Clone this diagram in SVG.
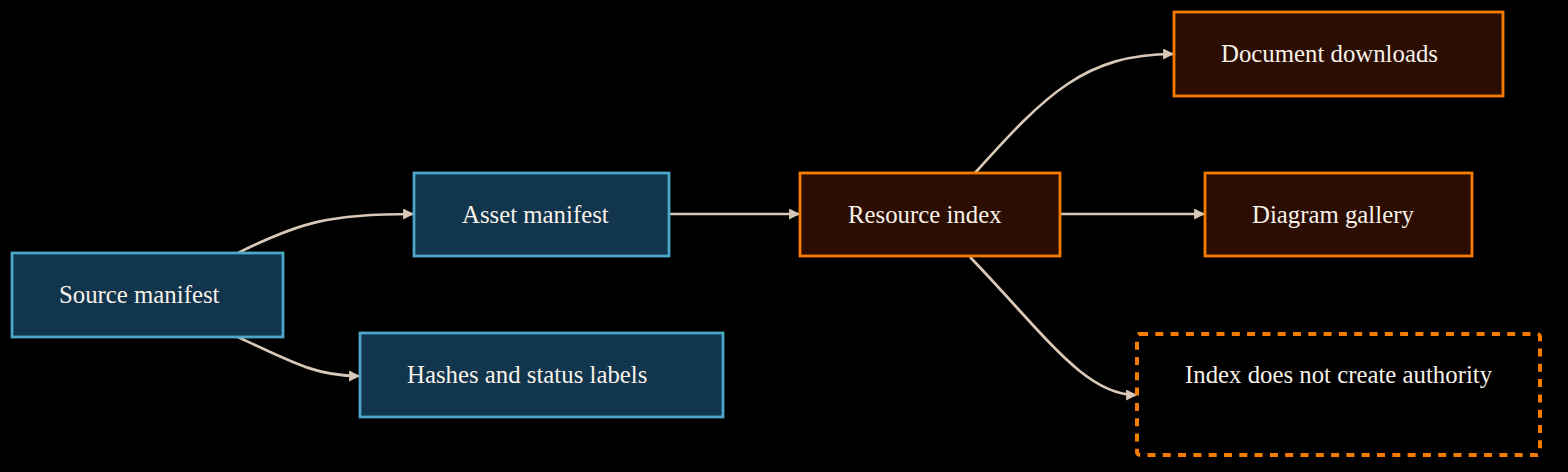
<svg xmlns="http://www.w3.org/2000/svg" width="1568" height="472" viewBox="0 0 1568 472">
<defs>
<style>
.bg{fill:#000}
.blue rect{fill:#12354e;stroke:#4ba6c8;stroke-width:2.8}
.orange rect{fill:#2b0d02;stroke:#f57c00;stroke-width:2.8}
.note rect{fill:none;stroke:#f57c00;stroke-width:4;stroke-dasharray:8 7.3}
text{font-family:"Liberation Serif","Times New Roman",serif;font-size:24.8px;fill:#f7f1e8}
.edges path{fill:none;stroke:#d9c8b8;stroke-width:2.7}
</style>
<marker id="arr" viewBox="0 0 10 10" refX="9" refY="5" markerWidth="11" markerHeight="11" markerUnits="userSpaceOnUse" orient="auto">
<path d="M0,0 L10,5 L0,10 z" fill="#d9c8b8"/>
</marker>
</defs>
<rect class="bg" x="0" y="0" width="1568" height="472"/>
<g class="edges">
<path d="M238,253 C300,222 330,214 413,214" marker-end="url(#arr)"/>
<path d="M238,337 C295,364 318,376 359,376" marker-end="url(#arr)"/>
<path d="M669,214 L799,214" marker-end="url(#arr)"/>
<path d="M975,173 C1045,95 1085,54 1173,54" marker-end="url(#arr)"/>
<path d="M1060,214 L1204,214" marker-end="url(#arr)"/>
<path d="M970,257 C1045,335 1085,395 1136,395" marker-end="url(#arr)"/>
</g>
<g id="source" class="blue"><rect x="12" y="253" width="271" height="84"/><text x="59" y="303">Source manifest</text></g>
<g id="asset" class="blue"><rect x="414" y="173" width="255" height="83"/><text x="462" y="223">Asset manifest</text></g>
<g id="hashes" class="blue"><rect x="360" y="333" width="363" height="84"/><text x="407" y="383">Hashes and status labels</text></g>
<g id="resource" class="orange"><rect x="800" y="173" width="260" height="83"/><text x="848" y="223">Resource index</text></g>
<g id="documents" class="orange"><rect x="1174" y="12" width="329" height="84"/><text x="1221" y="62">Document downloads</text></g>
<g id="gallery" class="orange"><rect x="1205" y="173" width="267" height="83"/><text x="1252" y="223">Diagram gallery</text></g>
<g id="note" class="note"><rect x="1137" y="334" width="403" height="121" rx="3"/><text x="1185" y="383">Index does not create authority</text></g>
</svg>
